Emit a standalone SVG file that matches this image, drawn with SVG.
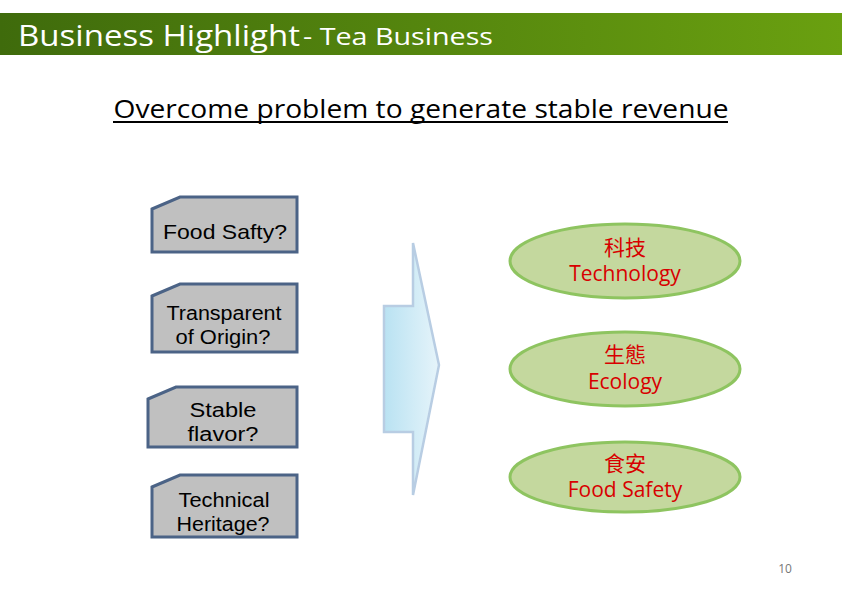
<svg xmlns="http://www.w3.org/2000/svg" width="842" height="595" viewBox="0 0 842 595">
<defs>
<linearGradient id="hdr" x1="0" y1="0" x2="1" y2="0">
<stop offset="0" stop-color="#3f6b0c"/>
<stop offset="1" stop-color="#6aa010"/>
</linearGradient>
<linearGradient id="arr" x1="0" y1="0" x2="1" y2="0">
<stop offset="0" stop-color="#b9e2f2"/>
<stop offset="1" stop-color="#e6f4fa"/>
</linearGradient>
<style>
.box{fill:#c0c0c0;stroke:#4b6386;stroke-width:3}
.bt{font-family:"Liberation Sans",Arial,sans-serif;fill:#000;text-anchor:middle;font-size:20px}
.ell{fill:#c4d89e;stroke:#8ec460;stroke-width:3}
.et{font-family:"Open Sans","Noto Sans CJK TC",sans-serif;fill:#d80000;font-size:21px;text-anchor:middle}
</style>
</defs>
<rect x="0" y="13" width="842" height="42" fill="url(#hdr)"/>
<text x="18" y="46" font-family="Open Sans,Noto Sans,sans-serif" font-size="30" fill="#fff" textLength="282" lengthAdjust="spacingAndGlyphs">Business Highlight</text>
<text x="303" y="45" font-family="Open Sans,Noto Sans,sans-serif" font-size="23" fill="#fff" textLength="190" lengthAdjust="spacingAndGlyphs">- Tea Business</text>
<text x="421" y="118" font-family="Open Sans,Noto Sans,sans-serif" font-size="26" fill="#000" text-anchor="middle" textLength="615" lengthAdjust="spacingAndGlyphs">Overcome problem to generate stable revenue</text>
<rect x="113" y="121" width="615" height="2" fill="#000"/>
<g id="n1"><path class="box" d="M152,209 L180,197 L297,197 L297,252 L152,252 Z"/><text class="bt" x="225" y="239" style="font-size:21px" textLength="124" lengthAdjust="spacingAndGlyphs">Food Safty?</text></g>
<g id="n2"><path class="box" d="M152,296 L180,284 L297,284 L297,352 L152,352 Z"/><text class="bt" x="224" y="320" textLength="115" lengthAdjust="spacingAndGlyphs">Transparent</text><text class="bt" x="223" y="344" textLength="95" lengthAdjust="spacingAndGlyphs">of Origin?</text></g>
<g id="n3"><path class="box" d="M148,399 L176,387 L297,387 L297,447 L148,447 Z"/><text class="bt" x="223" y="417" textLength="67" lengthAdjust="spacingAndGlyphs">Stable</text><text class="bt" x="223" y="441" textLength="71" lengthAdjust="spacingAndGlyphs">flavor?</text></g>
<g id="n4"><path class="box" d="M152,487 L180,475 L297,475 L297,537 L152,537 Z"/><text class="bt" x="224" y="507" textLength="91" lengthAdjust="spacingAndGlyphs">Technical</text><text class="bt" x="223" y="531" textLength="93" lengthAdjust="spacingAndGlyphs">Heritage?</text></g>
<g id="arrow"><path d="M384,306 L413,306 L413,243 L439,365 L413,495 L413,432 L384,432 Z" fill="url(#arr)" stroke="#b8cde3" stroke-width="2.5"/></g>
<g id="e1"><ellipse class="ell" cx="625" cy="261" rx="115" ry="37"/><text class="et" x="625" y="255">科技</text><text class="et" x="625" y="281">Technology</text></g>
<g id="e2"><ellipse class="ell" cx="625" cy="369" rx="115" ry="37"/><text class="et" x="625" y="362">生態</text><text class="et" x="625" y="389">Ecology</text></g>
<g id="e3"><ellipse class="ell" cx="625" cy="477" rx="115" ry="35"/><text class="et" x="625" y="471">食安</text><text class="et" x="625" y="497">Food Safety</text></g>
<text x="785" y="573" font-family="Open Sans,Noto Sans,sans-serif" font-size="12" fill="#777" text-anchor="middle">10</text>
</svg>
